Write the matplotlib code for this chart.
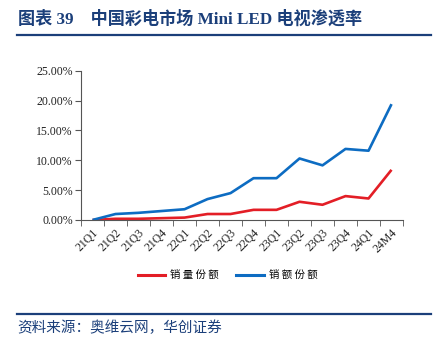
import matplotlib
matplotlib.use("Agg")
import matplotlib.pyplot as plt
from matplotlib.lines import Line2D
import numpy as np

categories = ["21Q1", "21Q2", "21Q3", "21Q4", "22Q1", "22Q2", "22Q3", "22Q4",
              "23Q1", "23Q2", "23Q3", "23Q4", "24Q1", "24M4"]
volume_share = [0.0, 0.2, 0.2, 0.3, 0.4, 1.0, 1.0, 1.7, 1.7, 3.05, 2.55, 4.0, 3.6, 8.4]
value_share = [0.0, 1.0, 1.2, 1.5, 1.8, 3.5, 4.5, 7.0, 7.0, 10.3, 9.15, 11.9, 11.6, 19.4]
yticks = [0, 5, 10, 15, 20, 25]
ytick_labels = ["0.00%", "5.00%", "10.00%", "15.00%", "20.00%", "25.00%"]

CJK = ["Noto Sans CJK SC", "DejaVu Sans"]
SERIF = ["Liberation Serif", "DejaVu Serif"]
SERIF_CJK = ["Liberation Serif", "Noto Sans CJK SC", "DejaVu Sans"]
RED = "#E31E26"
BLUE = "#0D6CC2"
NAVY = "#1B3F7A"

fig = plt.figure(figsize=(4.42, 3.44), dpi=100)
ax = fig.add_axes([0.1833, 0.3605, 0.7285, 0.434])

x = np.arange(len(categories))
ax.plot(x, volume_share, color=RED, lw=1.9, solid_capstyle="butt")
ax.plot(x, value_share, color=BLUE, lw=1.9, solid_capstyle="butt")

ax.set_xlim(-0.5, len(categories) - 0.5)
ax.set_ylim(0, 25)
ax.set_yticks(yticks)
ax.set_yticklabels(ytick_labels, fontfamily=SERIF, fontsize=8.5, color="#222222")
ax.set_xticks(x)
ax.set_xticklabels(categories, rotation=45, ha="right", va="top",
                   rotation_mode="anchor", fontfamily=SERIF, fontsize=8.5, color="#222222")
ax.set_xticks(np.arange(-0.5, len(categories)), minor=True)
ax.tick_params(axis="x", which="major", length=0, pad=5)
ax.tick_params(axis="x", which="minor", length=4, direction="out", color="#555555")
ax.tick_params(axis="y", length=4, direction="out", color="#555555", pad=2)
for s in ["top", "right"]:
    ax.spines[s].set_visible(False)
for s in ["left", "bottom"]:
    ax.spines[s].set_color("#555555")
    ax.spines[s].set_linewidth(0.8)

# legend
handles = [Line2D([], [], color=RED, lw=2.2), Line2D([], [], color=BLUE, lw=2.2)]
fig.legend(handles, ["销 量 份 额", "销 额 份 额"], loc="center", bbox_to_anchor=(0.515, 0.20),
           ncol=2, frameon=False, prop={"family": CJK, "size": 7.5},
           handlelength=2.6, columnspacing=1.7, handletextpad=0.5)

# title
fig.text(0.04, 0.945, "图表 39    中国彩电市场 Mini LED 电视渗透率", fontfamily=SERIF_CJK,
         fontsize=12.3, fontweight="bold", color=NAVY, va="center", ha="left")
fig.add_artist(Line2D([0.038, 0.975], [0.898, 0.898], transform=fig.transFigure,
                      color=NAVY, lw=1.6))
fig.add_artist(Line2D([0.038, 0.975], [0.087, 0.087], transform=fig.transFigure,
                      color=NAVY, lw=1.6))
fig.text(0.04, 0.047, "资料来源：奥维云网，华创证券", fontfamily=CJK, fontsize=10.5,
         style="italic", color=NAVY, va="center", ha="left")

fig.savefig("out.png", dpi=100)
